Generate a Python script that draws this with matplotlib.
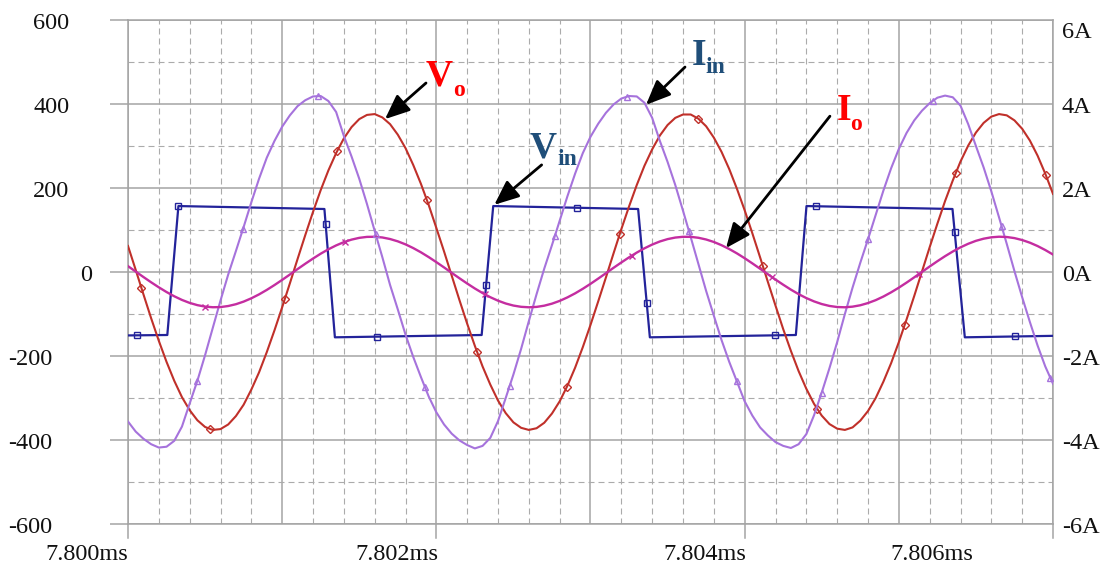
import numpy as np
import matplotlib
matplotlib.use("Agg")
import matplotlib.pyplot as plt
import matplotlib.transforms as mtransforms
from matplotlib.ticker import MultipleLocator

# ---------------- waveform samples (time in ms, 0.05 us apart) ----------------
t_grid = np.round(np.linspace(7.800, 7.806, 121), 5)

# output voltage V_o [V]
vo_grid = [62, 5, -53, -110, -164, -214, -259, -298, -329, -353,
           -369, -376, -374, -363, -343, -316, -280, -239, -191, -139,
           -84, -27, 31, 88, 143, 195, 242, 283, 318, 345,
           364, 374, 376, 368, 352, 327, 295, 255, 210, 160,
           105, 49, -9, -67, -123, -176, -225, -268, -306, -336,
           -358, -371, -376, -372, -359, -337, -308, -271, -228, -179,
           -126, -70, -13, 45, 102, 156, 207, 253, 292, 325,
           350, 367, 375, 375, 365, 347, 320, 286, 245, 198,
           147, 92, 35, -23, -80, -136, -188, -236, -278, -314,
           -342, -362, -373, -376, -370, -354, -331, -300, -261, -217,
           -167, -113, -57, 1, 59, 115, 169, 218, 263, 301,
           332, 355, 370, 376, 373, 361, 341, 313, 277, 234,
           186]

# output current I_o [A]
io_grid = [0.139, 0.010, -0.119, -0.245, -0.365, -0.477, -0.578, -0.665, -0.736, -0.789,
           -0.824, -0.839, -0.835, -0.810, -0.767, -0.705, -0.626, -0.533, -0.427, -0.311,
           -0.188, -0.060, 0.070, 0.197, 0.320, 0.436, 0.541, 0.633, 0.711, 0.771,
           0.813, 0.836, 0.839, 0.822, 0.785, 0.730, 0.658, 0.570, 0.469, 0.356,
           0.235, 0.109, -0.021, -0.149, -0.274, -0.393, -0.502, -0.600, -0.683, -0.750,
           -0.799, -0.829, -0.840, -0.831, -0.802, -0.754, -0.688, -0.605, -0.509, -0.400,
           -0.282, -0.157, -0.029, 0.101, 0.227, 0.349, 0.462, 0.564, 0.653, 0.727,
           0.783, 0.820, 0.838, 0.837, 0.815, 0.774, 0.715, 0.638, 0.547, 0.443,
           0.328, 0.205, 0.078, -0.052, -0.180, -0.303, -0.420, -0.527, -0.621, -0.700,
           -0.763, -0.808, -0.834, -0.840, -0.825, -0.792, -0.739, -0.670, -0.584, -0.484,
           -0.373, -0.253, -0.127, 0.002, 0.131, 0.257, 0.377, 0.488, 0.587, 0.672,
           0.742, 0.793, 0.826, 0.840, 0.833, 0.807, 0.761, 0.698, 0.618, 0.523,
           0.416]

# input current I_in [A]
iin_grid = [-3.56, -3.80, -3.97, -4.10, -4.18, -4.16, -4.02, -3.68, -3.13, -2.59,
            -1.98, -1.33, -0.68, -0.06, 0.50, 1.07, 1.66, 2.22, 2.72, 3.12,
            3.46, 3.73, 3.95, 4.09, 4.18, 4.19, 4.07, 3.81, 3.24, 2.75,
            2.22, 1.62, 0.98, 0.35, -0.31, -0.89, -1.49, -2.02, -2.50, -2.96,
            -3.34, -3.63, -3.85, -4.01, -4.12, -4.20, -4.14, -3.95, -3.55, -3.00,
            -2.44, -1.83, -1.17, -0.53, 0.08, 0.64, 1.22, 1.80, 2.34, 2.83,
            3.22, 3.53, 3.79, 3.99, 4.13, 4.19, 4.18, 4.03, 3.67, 3.12,
            2.62, 2.07, 1.46, 0.83, 0.19, -0.45, -1.04, -1.62, -2.14, -2.61,
            -3.08, -3.42, -3.70, -3.89, -4.05, -4.14, -4.19, -4.10, -3.86, -3.41,
            -2.87, -2.29, -1.67, -1.00, -0.37, 0.22, 0.78, 1.36, 1.94, 2.47,
            2.93, 3.31, 3.61, 3.84, 4.02, 4.15, 4.20, 4.16, 3.96, 3.52,
            3.00, 2.49, 1.92, 1.30, 0.67, 0.02, -0.60, -1.19, -1.75, -2.25,
            -2.66]

# input voltage V_in [V]: corner points of the square wave
vin_t = [7.800000, 7.800255, 7.800327, 7.801274, 7.801342, 7.802294, 7.802369,
         7.803309, 7.803385, 7.804332, 7.804401, 7.805348, 7.805428, 7.806000]
vin_v = [-151, -150, 157, 150, -155.5, -150, 157, 150, -155.5, -150, 157, 150, -155.5, -152]

# trace markers
vin_mark_t = [7.800058, 7.800327, 7.801282, 7.801617, 7.802322, 7.802910,
              7.803364, 7.804200, 7.804462, 7.805363, 7.805752]
vin_mark_v = [-151, 157, 115, -154, -30, 153, -74, -151, 156, 95, -153]
vo_mark_t = [7.800086, 7.800530, 7.801016, 7.801354, 7.801937, 7.802266, 7.802846,
             7.803191, 7.803699, 7.804121, 7.804471, 7.805040, 7.805371, 7.805953]
vo_mark_v = [-38, -374, -65, 287, 171, -191, -273, 90, 364, 14, -327, -125, 235, 231]
iin_mark_t = [7.800450, 7.800746, 7.801232, 7.801607, 7.801926, 7.802478, 7.802770, 7.803235,
              7.803639, 7.803948, 7.804500, 7.804802, 7.805223, 7.805667, 7.805980]
iin_mark_a = [-2.60, 1.03, 4.20, 0.90, -2.74, -2.72, 0.86, 4.17,
              0.97, -2.59, -2.88, 0.79, 4.08, 1.10, -2.53]
io_mark_t = [7.800501, 7.801408, 7.802316, 7.803267, 7.804175, 7.805133]
io_mark_a = [-0.825, 0.72, -0.53, 0.39, -0.11, -0.04]

# axis ticks
volt_ticks = [600, 400, 200, 0, -200, -400, -600]
amp_ticks = [6, 4, 2, 0, -2, -4, -6]
time_ticks = [7.800, 7.802, 7.804, 7.806]

# ---------------- styling ----------------
SERIF = ["Liberation Serif", "DejaVu Serif"]
C_VIN = "#23239a"
C_VO = "#c0302a"
C_IIN = "#a673dc"
C_IO = "#c42da0"
C_GRID = "#a4a4a4"
C_MINOR = "#ababab"

W, H = 1111, 566
fig = plt.figure(figsize=(W / 100, H / 100), dpi=100)
ax = fig.add_axes([128 / W, 1 - 524 / H, 925 / W, 504 / H])
ax.set_xlim(7.800, 7.806)
ax.set_ylim(-600, 600)

ax.xaxis.set_major_locator(MultipleLocator(0.001))
ax.xaxis.set_minor_locator(MultipleLocator(0.0002))
ax.yaxis.set_major_locator(MultipleLocator(200))
ax.yaxis.set_minor_locator(MultipleLocator(100))
ax.grid(which="major", color=C_GRID, lw=1.1, ls="-")
ax.grid(which="minor", color=C_MINOR, lw=0.8, ls=(0, (5.4, 3.6)))
ax.set_axisbelow(True)
ax.tick_params(axis="x", which="both", length=0, labelbottom=False)
ax.tick_params(axis="y", which="major", length=13, width=1.1, color=C_GRID,
               direction="out", labelleft=False)
ax.tick_params(axis="y", which="minor", length=0)
for s in ax.spines.values():
    s.set_color(C_GRID)
    s.set_linewidth(1.1)

# tick marks below the time axis
xtrans = ax.get_xaxis_transform()
for t in time_ticks:
    ax.plot([t, t], [0, -14 / 504], transform=xtrans, clip_on=False,
            color=C_GRID, lw=1.1, zorder=1)

# current axis
ax2 = ax.twinx()
ax2.set_ylim(-6, 6)
ax2.tick_params(axis="y", length=0, labelright=False)
for s in ax2.spines.values():
    s.set_visible(False)

# ---------------- traces ----------------
ax.plot(vin_t, vin_v, color=C_VIN, lw=1.6, zorder=3)
ax.plot(vin_mark_t, vin_mark_v, ls="none", marker="s", ms=5, mfc="none",
        mec=C_VIN, mew=1.0, zorder=4)
ax.plot(t_grid, vo_grid, color=C_VO, lw=1.5, zorder=3)
ax.plot(vo_mark_t, vo_mark_v, ls="none", marker="D", ms=4, mfc="none",
        mec=C_VO, mew=1.0, zorder=4)

ax2.plot(t_grid, iin_grid, color=C_IIN, lw=1.5, zorder=2)
ax2.plot(iin_mark_t, iin_mark_a, ls="none", marker="^", ms=5, mfc="none",
         mec=C_IIN, mew=1.0, zorder=3)
ax2.plot(t_grid, io_grid, color=C_IO, lw=1.7, zorder=2)
ax2.plot(io_mark_t, io_mark_a, ls="none", marker="x", ms=5, mec=C_IO,
         mew=1.0, zorder=3)

# ---------------- tick labels ----------------
def px_offset(dx, dy):
    return mtransforms.ScaledTranslation(dx / 100, dy / 100, fig.dpi_scale_trans)

left_tr = mtransforms.blended_transform_factory(fig.transFigure, ax.transData)
for v in volt_ticks:
    x_px = 33 if v > 0 else (80 if v == 0 else 8)
    fig.text(x_px / W, v, f"{v}", transform=left_tr + px_offset(0, -9),
             ha="left", va="baseline", fontsize=17.5, family=SERIF, color="#111111")

right_tr = mtransforms.blended_transform_factory(fig.transFigure, ax2.transData)
for a in amp_ticks:
    dy = -18 if a == max(amp_ticks) else -9
    fig.text(1062 / W, a, f"{a}A", transform=right_tr + px_offset(0, dy),
             ha="left", va="baseline", fontsize=17.5, family=SERIF, color="#111111")

bottom_tr = mtransforms.blended_transform_factory(ax.transData, fig.transFigure)
time_dx = [0, 2, 2, -80]
for t, dx in zip(time_ticks, time_dx):
    fig.text(t, 1 - 560 / H, f"{t:.3f}ms", transform=bottom_tr + px_offset(dx, 0),
             ha="right", va="baseline", fontsize=17.5, family=SERIF, color="#111111")

# ---------------- trace names with pointers ----------------
def name(x_px, y_px, main, sub, sub_dx, sub_dy, color):
    fig.text(x_px / W, 1 - y_px / H, main, ha="left", va="baseline",
             fontsize=27, fontweight="bold", family=SERIF, color=color)
    fig.text((x_px + sub_dx) / W, 1 - (y_px + sub_dy) / H, sub, ha="left",
             va="baseline", fontsize=17, fontweight="bold", family=SERIF, color=color)


name(426, 85, "V", "o", 27.5, 11, "#ff0000")
name(530, 157, "V", "in", 27, 8, "#1f4e79")
name(692, 65, "I", "in", 13, 8, "#1f4e79")
name(837, 120, "I", "o", 13, 10, "#ff0000")

arrow_style = dict(arrowstyle="-|>,head_length=0.75,head_width=0.32", color="black",
                   lw=2.0, shrinkA=0, shrinkB=0, mutation_scale=20)
pointers = [((7.801667, 364), (7.801933, 450)),   # V_o
            ((7.802376, 160), (7.802683, 255)),   # V_in
            ((7.803360, 398), (7.803613, 488)),   # I_in
            ((7.803879, 57), (7.804553, 371))]    # I_o
for tip, tail in pointers:
    ax2.annotate("", xy=tip, xycoords=ax.transData, xytext=tail,
                 textcoords=ax.transData, arrowprops=arrow_style, zorder=5)

fig.savefig("out.png", dpi=100)
